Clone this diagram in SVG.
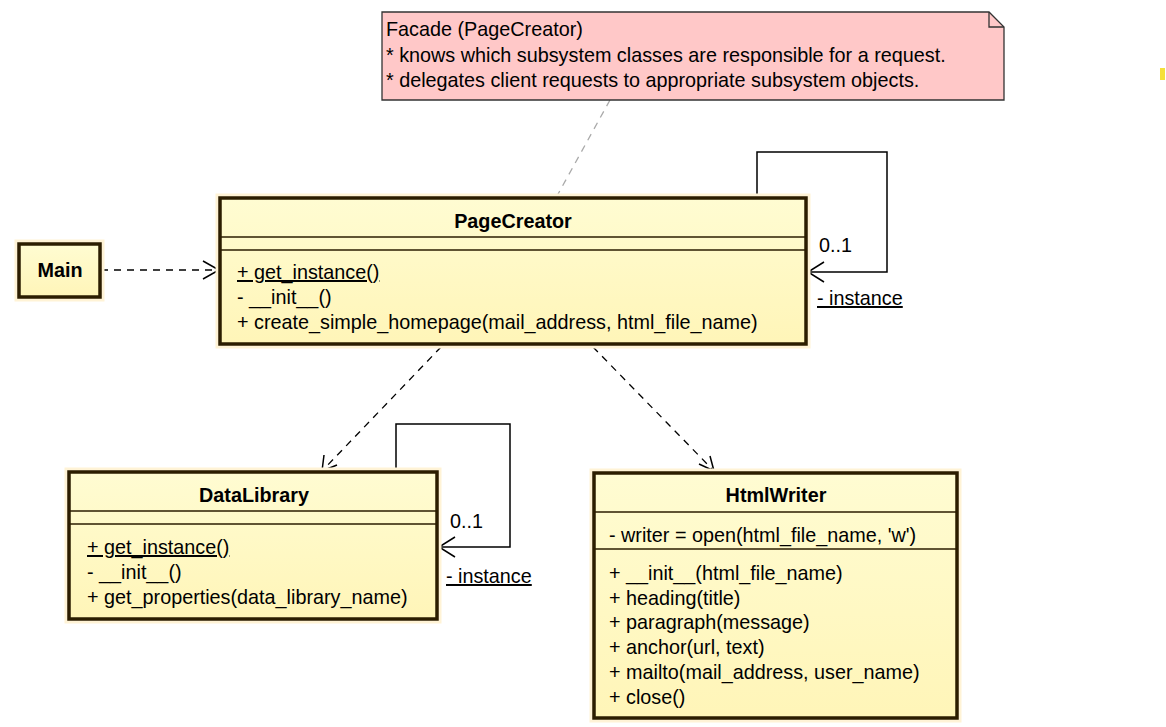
<svg xmlns="http://www.w3.org/2000/svg" width="1166" height="727" viewBox="0 0 1166 727">
<defs>
<style>
text{font-family:"Liberation Sans",Arial,sans-serif;font-size:19.8px;fill:#000}
.b{font-weight:bold;text-anchor:middle}
.u{text-decoration:underline}
.cls{fill:#ffffc8;stroke:#2b1d00;stroke-width:3.5}
.halo{fill:none;stroke:#fff3d6;stroke-width:9}
.sep{stroke:#2b1d00;stroke-width:1.5}
.dep{fill:none;stroke:#000;stroke-width:1.3;stroke-dasharray:7,6}
.assoc{fill:none;stroke:#000;stroke-width:1.5}
.ah{fill:none;stroke:#000;stroke-width:1.5}
</style>
<linearGradient id="g" x1="0" y1="0" x2="0" y2="1"><stop offset="0" stop-color="#fffcd2"/><stop offset="1" stop-color="#fff5b8"/></linearGradient>
</defs>
<rect width="1166" height="727" fill="#fff"/>
<rect x="1160" y="68" width="5" height="12" fill="#f5e03a"/>

<g id="connectors">
<line x1="610" y1="100" x2="557" y2="196" stroke="#aaa" stroke-width="1.3" stroke-dasharray="7,6"/>
<line class="dep" x1="101" y1="270" x2="218" y2="270"/>
<polyline class="ah" points="203,261 219,270 203,279"/>
<line class="dep" x1="441" y1="347" x2="323" y2="470"/>
<polyline class="ah" points="324,455 322,471 337,465"/>
<line class="dep" x1="593" y1="347" x2="713" y2="470"/>
<polyline class="ah" points="699,464 714,471 710,456"/>
<polyline class="assoc" points="757,196 757,152 887,152 887,272 808,272"/>
<polyline class="ah" points="824,262 808,272 824,282"/>
<polyline class="assoc" points="396,470 396,424 510,424 510,547 439,547"/>
<polyline class="ah" points="455,537 439,547 455,557"/>
<text x="819" y="252">0..1</text>
<text x="817" y="305" class="u">- instance</text>
<text x="450" y="528">0..1</text>
<text x="446" y="583" class="u">- instance</text>
</g>

<g id="note">
<path d="M382,12 H989 L1004,27 V100 H382 Z" fill="#ffc8c8" stroke="#333" stroke-width="1.3"/>
<path d="M989,12 V27 H1004" fill="none" stroke="#333" stroke-width="1.3"/>
<text x="386" y="36">Facade (PageCreator)</text>
<text x="386" y="62">* knows which subsystem classes are responsible for a request.</text>
<text x="386" y="87">* delegates client requests to appropriate subsystem objects.</text>
</g>

<g id="Main">
<rect class="halo" x="19" y="244" width="81" height="53"/>
<rect class="cls" x="19" y="244" width="81" height="53" style="fill:url(#g)"/>
<text x="60" y="277" class="b">Main</text>
</g>

<g id="PageCreator">
<rect class="halo" x="220" y="198" width="586" height="146"/>
<rect class="cls" x="220" y="198" width="586" height="146" style="fill:url(#g)"/>
<line class="sep" x1="220" y1="237" x2="806" y2="237"/>
<line class="sep" x1="220" y1="250" x2="806" y2="250"/>
<text x="513" y="228" class="b">PageCreator</text>
<text x="237" y="279" class="u">+ get_instance()</text>
<text x="237" y="304">- __init__()</text>
<text x="237" y="329">+ create_simple_homepage(mail_address, html_file_name)</text>
</g>

<g id="DataLibrary">
<rect class="halo" x="69" y="472" width="368" height="147"/>
<rect class="cls" x="69" y="472" width="368" height="147" style="fill:url(#g)"/>
<line class="sep" x1="69" y1="511" x2="437" y2="511"/>
<line class="sep" x1="69" y1="524" x2="437" y2="524"/>
<text x="254" y="502" class="b">DataLibrary</text>
<text x="87" y="554" class="u">+ get_instance()</text>
<text x="87" y="579">- __init__()</text>
<text x="87" y="604">+ get_properties(data_library_name)</text>
</g>

<g id="HtmlWriter">
<rect class="halo" x="594" y="473" width="363" height="245"/>
<rect class="cls" x="594" y="473" width="363" height="245" style="fill:url(#g)"/>
<line class="sep" x1="594" y1="512" x2="957" y2="512"/>
<line class="sep" x1="594" y1="549" x2="957" y2="549"/>
<text x="776" y="502" class="b">HtmlWriter</text>
<text x="609" y="542">- writer = open(html_file_name, 'w')</text>
<text x="609" y="580">+ __init__(html_file_name)</text>
<text x="609" y="605">+ heading(title)</text>
<text x="609" y="629">+ paragraph(message)</text>
<text x="609" y="654">+ anchor(url, text)</text>
<text x="609" y="679">+ mailto(mail_address, user_name)</text>
<text x="609" y="704">+ close()</text>
</g>
</svg>
